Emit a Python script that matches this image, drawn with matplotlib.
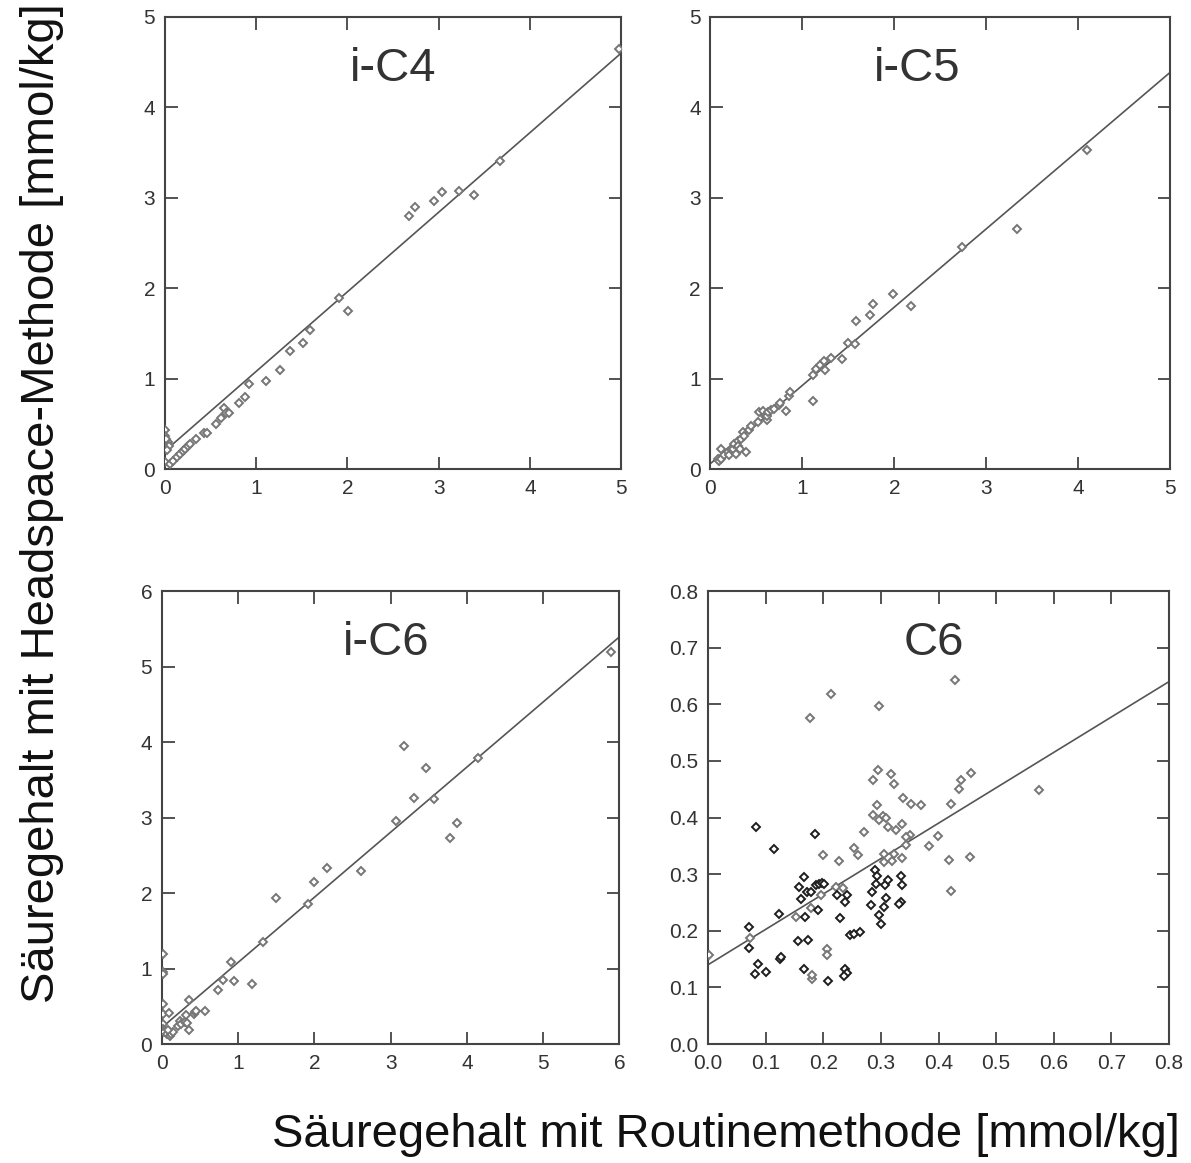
import numpy as np
import matplotlib as mpl
mpl.use('Agg')
import matplotlib.pyplot as plt

plt.rcParams['font.family'] = ['Liberation Sans', 'DejaVu Sans']

# i-C4: routine method (x) vs headspace method (y), mmol/kg
ic4_x = [0.00, 0.00, 0.01, 0.02, 0.03, 0.04, 0.02, 0.00, 0.00, 0.01, 0.05,
         0.09, 0.13, 0.16, 0.20, 0.22, 0.25, 0.28, 0.34, 0.43, 0.46, 0.56,
         0.61, 0.65, 0.67, 0.70, 0.81, 0.88, 0.92, 1.11, 1.26, 1.37, 1.51,
         1.59, 1.91, 2.01, 2.68, 2.74, 2.95, 3.04, 3.22, 3.39, 3.67, 4.98]
ic4_y = [0.43, 0.32, 0.29, 0.27, 0.30, 0.26, 0.21, 0.08, 0.36, 0.33, 0.06,
         0.09, 0.13, 0.17, 0.20, 0.22, 0.25, 0.28, 0.33, 0.40, 0.40, 0.50,
         0.57, 0.67, 0.62, 0.62, 0.73, 0.80, 0.94, 0.97, 1.09, 1.31, 1.39,
         1.54, 1.89, 1.75, 2.80, 2.90, 2.96, 3.06, 3.07, 3.03, 3.41, 4.65]

# i-C5
ic5_x = [0.08, 0.09, 0.11, 0.11, 0.15, 0.19, 0.20, 0.22, 0.24, 0.26, 0.28,
         0.30, 0.30, 0.32, 0.33, 0.35, 0.37, 0.39, 0.42, 0.44, 0.52, 0.53,
         0.57, 0.59, 0.61, 0.62, 0.63, 0.66, 0.69, 0.75, 0.76, 0.82, 0.85,
         0.87, 1.12, 1.12, 1.15, 1.19, 1.23, 1.24, 1.31, 1.43, 1.50, 1.57,
         1.58, 1.73, 1.77, 1.98, 2.18, 2.74, 3.33, 4.09]
ic5_y = [0.11, 0.09, 0.11, 0.22, 0.15, 0.19, 0.15, 0.22, 0.22, 0.28, 0.17,
         0.31, 0.25, 0.22, 0.33, 0.41, 0.37, 0.19, 0.43, 0.48, 0.52, 0.63,
         0.64, 0.59, 0.54, 0.59, 0.63, 0.65, 0.66, 0.71, 0.73, 0.64, 0.81,
         0.85, 0.75, 1.04, 1.11, 1.15, 1.19, 1.09, 1.23, 1.22, 1.39, 1.38,
         1.64, 1.70, 1.83, 1.94, 1.80, 2.46, 2.66, 3.53]

# i-C6
ic6_x = [0.01, 0.01, 0.01, 0.01, 0.01, 0.01, 0.01, 0.02, 0.03, 0.09, 0.06,
         0.10, 0.12, 0.14, 0.08, 0.21, 0.23, 0.25, 0.30, 0.33, 0.35, 0.32,
         0.36, 0.42, 0.43, 0.45, 0.56, 0.73, 0.80, 0.91, 0.94, 1.18, 1.32,
         1.49, 1.92, 2.00, 2.16, 2.61, 3.07, 3.17, 3.31, 3.47, 3.57, 3.78,
         3.87, 4.14, 5.89]
ic6_y = [1.19, 0.95, 0.93, 0.53, 0.40, 0.27, 0.20, 0.18, 0.16, 0.41, 0.13,
         0.11, 0.13, 0.16, 0.18, 0.24, 0.30, 0.27, 0.29, 0.28, 0.19, 0.38,
         0.58, 0.40, 0.42, 0.44, 0.44, 0.71, 0.85, 1.08, 0.83, 0.80, 1.35,
         1.93, 1.85, 2.15, 2.33, 2.29, 2.96, 3.95, 3.26, 3.66, 3.24, 2.73,
         2.93, 3.79, 5.19]

# C6, lighter points
c6_x_light = [0.429, 0.214, 0.296, 0.177, 0.295, 0.286, 0.318, 0.322, 0.457,
              0.439, 0.435, 0.574, 0.338, 0.352, 0.370, 0.293, 0.422, 0.286,
              0.303, 0.308, 0.297, 0.270, 0.312, 0.326, 0.337, 0.350, 0.399,
              0.344, 0.384, 0.254, 0.260, 0.199, 0.228, 0.305, 0.306, 0.319,
              0.323, 0.336, 0.418, 0.454, 0.422, 0.196, 0.179, 0.153, 0.072,
              0.180, 0.181, 0.206, 0.206, 0.222, 0.235, 0.344, 0.002]
c6_y_light = [0.643, 0.619, 0.597, 0.575, 0.484, 0.466, 0.476, 0.460, 0.478,
              0.467, 0.450, 0.448, 0.434, 0.424, 0.423, 0.423, 0.424, 0.405,
              0.402, 0.400, 0.396, 0.374, 0.383, 0.378, 0.389, 0.370, 0.368,
              0.365, 0.350, 0.346, 0.334, 0.334, 0.324, 0.336, 0.322, 0.324,
              0.335, 0.329, 0.325, 0.331, 0.271, 0.263, 0.241, 0.224, 0.188,
              0.115, 0.122, 0.167, 0.157, 0.278, 0.276, 0.351, 0.157]

# C6, darker points
c6_x_dark = [0.083, 0.186, 0.115, 0.166, 0.157, 0.162, 0.172, 0.179, 0.187,
             0.192, 0.197, 0.202, 0.190, 0.169, 0.124, 0.156, 0.174, 0.071,
             0.071, 0.087, 0.081, 0.101, 0.125, 0.127, 0.166, 0.209, 0.224,
             0.242, 0.238, 0.229, 0.247, 0.254, 0.264, 0.237, 0.242, 0.236,
             0.289, 0.294, 0.291, 0.284, 0.283, 0.296, 0.300, 0.308, 0.306,
             0.307, 0.312, 0.335, 0.337, 0.335, 0.332]
c6_y_dark = [0.383, 0.371, 0.344, 0.295, 0.277, 0.257, 0.269, 0.269, 0.281,
             0.283, 0.284, 0.283, 0.237, 0.225, 0.229, 0.182, 0.183, 0.207,
             0.170, 0.141, 0.124, 0.128, 0.150, 0.154, 0.133, 0.112, 0.263,
             0.263, 0.250, 0.222, 0.193, 0.194, 0.197, 0.133, 0.125, 0.121,
             0.307, 0.296, 0.282, 0.269, 0.245, 0.228, 0.212, 0.258, 0.242,
             0.281, 0.290, 0.296, 0.281, 0.251, 0.247]

# regression lines (intercept, slope)
fit_ic4 = (0.20, 0.88)
fit_ic5 = (0.06, 0.866)
fit_ic6 = (0.22, 0.862)
fit_c6 = (0.140, 0.625)

titles = ['i-C4', 'i-C5', 'i-C6', 'C6']
limits = [5, 5, 6, 0.8]
ticks = [np.arange(0, 6, 1), np.arange(0, 6, 1), np.arange(0, 7, 1),
         np.arange(0, 0.81, 0.1)]

LINE = '#555555'
LIGHT = '#767676'
DARK = '#1e1e1e'

fig = plt.figure(figsize=(11.91, 11.63), dpi=100)
rects = [[0.1385, 0.5967, 0.3830, 0.3887],
         [0.5965, 0.5967, 0.3862, 0.3887],
         [0.1360, 0.1023, 0.3840, 0.3895],
         [0.5945, 0.1023, 0.3870, 0.3895]]
title_x = [0.50, 0.45, 0.49, 0.49]
axes = [fig.add_axes(r) for r in rects]

series = [[(ic4_x, ic4_y, LIGHT)],
          [(ic5_x, ic5_y, LIGHT)],
          [(ic6_x, ic6_y, LIGHT)],
          [(c6_x_light, c6_y_light, LIGHT), (c6_x_dark, c6_y_dark, DARK)]]
fits = [fit_ic4, fit_ic5, fit_ic6, fit_c6]

for i, ax in enumerate(axes):
    lim = limits[i]
    b, m = fits[i]
    xs = np.array([0, lim])
    ax.plot(xs, b + m*xs, color=LINE, lw=1.2, zorder=2)
    for x, y, c in series[i]:
        ax.plot(x, y, ls='none', marker='D', ms=4.4, mfc='white',
                mec=c, mew=1.4, zorder=3)
    ax.set_xlim(0, lim)
    ax.set_ylim(0, lim)
    ax.set_xticks(ticks[i])
    ax.set_yticks(ticks[i])
    if i == 3:
        ax.set_xticklabels(['%.1f' % t for t in ticks[i]])
        ax.set_yticklabels(['%.1f' % t for t in ticks[i]])
    ax.tick_params(direction='in', length=9, width=1.3, top=True,
                   right=True, labelsize=15, colors='#444444',
                   labelcolor='#333333', pad=7)
    for s in ax.spines.values():
        s.set_color('#444444')
        s.set_linewidth(1.5)
    ax.text(title_x[i], 0.885, titles[i], transform=ax.transAxes,
            ha='center', va='center', fontsize=34, color='#333333')

fig.text(0.6096, 0.024, 'Säuregehalt mit Routinemethode [mmol/kg]',
         ha='center', va='center', fontsize=34, color='#111111')
fig.text(0.035, 0.5675, 'Säuregehalt mit Headspace-Methode [mmol/kg]',
         ha='center', va='center', rotation=90, fontsize=34, color='#111111')

fig.savefig('out.png', dpi=100)
